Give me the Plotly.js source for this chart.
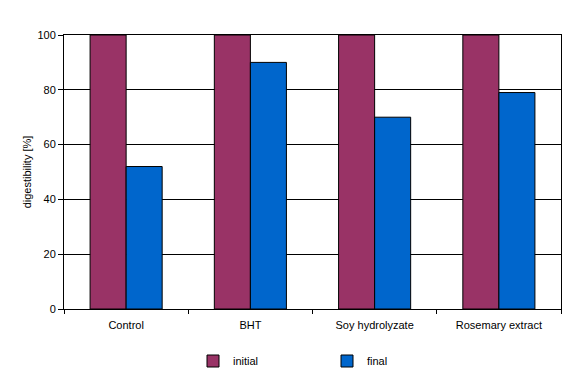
<!DOCTYPE html>
<html>
<head>
<meta charset="utf-8">
<script src="https://cdn.plot.ly/plotly-3.0.1.min.js"></script>
<style>html,body{margin:0;padding:0;background:#fff;}#chart{width:573px;height:381px;}</style>
</head>
<body>
<div id="chart"></div>
<script>
const categories = ["Control", "BHT", "Soy hydrolyzate", "Rosemary extract"];
const initialValues = [100, 100, 100, 100];
const finalValues = [52, 90, 70, 79];
const yTicks = [0, 20, 40, 60, 80, 100];

const traces = [
  {type: "bar", name: "initial", x: categories, y: initialValues,
   marker: {color: "#993366", line: {color: "#000", width: 1}}},
  {type: "bar", name: "final", x: categories, y: finalValues,
   marker: {color: "#0066CC", line: {color: "#000", width: 1}}}
];

const layout = {
  width: 573, height: 381,
  margin: {l: 64, r: 12, t: 35, b: 72},
  paper_bgcolor: "#fff", plot_bgcolor: "#fff",
  font: {family: "Liberation Sans, Arial, sans-serif", size: 11, color: "#000"},
  barmode: "group", bargap: 0.42, bargroupgap: 0,
  showlegend: true,
  legend: {orientation: "h", xref: "container", yref: "container",
           x: 193 / 573, xanchor: "left", y: 20 / 381, yanchor: "middle",
           entrywidth: 89, entrywidthmode: "pixels", itemwidth: 30,
           font: {size: 11}, traceorder: "normal", bgcolor: "rgba(0,0,0,0)"},
  xaxis: {type: "category", showline: true, linecolor: "#000", linewidth: 1, mirror: true,
          ticks: "outside", tickson: "boundaries", ticklen: 4, tickcolor: "#000",
          showgrid: false, tickfont: {size: 11}, ticklabelstandoff: 6, automargin: false},
  yaxis: {range: [0, 100], tickvals: yTicks, showline: true, linecolor: "#000", linewidth: 1, mirror: true,
          ticks: "outside", ticklen: 5, tickcolor: "#000", showgrid: true, gridcolor: "#000", gridwidth: 1,
          zeroline: false, tickfont: {size: 11}, automargin: false,
          title: {text: "digestibility [%]", font: {size: 11}, standoff: 3}}
};

Plotly.newPlot("chart", traces, layout, {displayModeBar: false, staticPlot: true});
</script>
</body>
</html>
